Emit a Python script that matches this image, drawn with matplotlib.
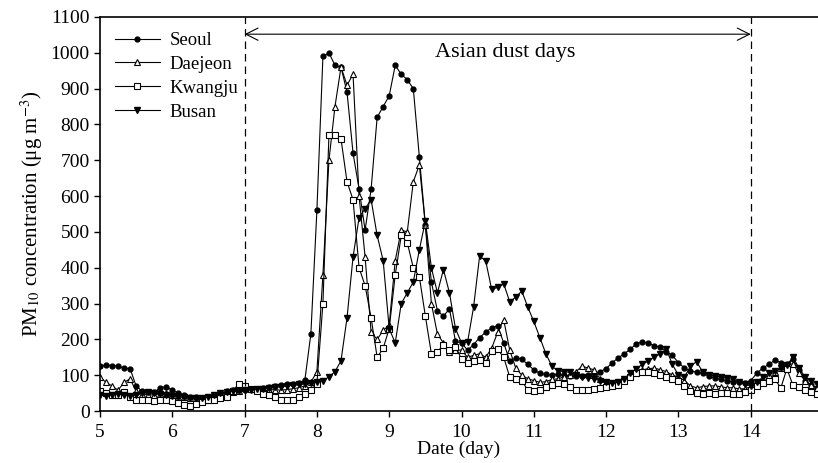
import matplotlib
matplotlib.use("Agg")
import matplotlib.pyplot as plt
import numpy as np

plt.rcParams['font.family'] = ['Liberation Serif', 'DejaVu Serif']
plt.rcParams['mathtext.fontset'] = 'stix'

# 2-hourly samples, day 5.0 .. 14.917
day = 5 + np.arange(120) / 12.0

seoul = [125, 128, 127, 125, 120, 118, 70, 55, 52, 52, 65, 68,
         58, 50, 45, 40, 38, 36, 38, 42, 48, 55, 60, 58,
         60, 62, 62, 65, 68, 70, 72, 75, 75, 78, 86, 215,
         560, 990, 1000, 965, 960, 890, 720, 620, 505, 620, 820, 850,
         880, 965, 940, 925, 900, 710, 520, 360, 280, 265, 285, 195,
         190, 170, 185, 205, 220, 232, 238, 190, 140, 148, 145, 130,
         115, 105, 102, 100, 102, 100, 98, 97, 98, 100, 105, 110,
         118, 135, 148, 160, 172, 188, 193, 190, 182, 178, 165, 155,
         135, 120, 112, 108, 105, 98, 92, 88, 85, 82, 80, 78,
         85, 105, 120, 130, 142, 135, 130, 145, 115, 85, 72, 65]

daejeon = [95, 80, 70, 58, 80, 90, 55, 48, 45, 45, 48, 50,
           45, 40, 38, 35, 32, 30, 32, 38, 45, 50, 52, 55,
           65, 62, 58, 55, 58, 60, 58, 60, 62, 65, 70, 80,
           110, 380, 700, 850, 960, 910, 940, 600, 430, 220, 200, 225,
           240, 420, 505, 500, 640, 687, 520, 300, 215, 190, 165, 170,
           170, 150, 155, 160, 150, 175, 220, 255, 170, 120, 100, 90,
           85, 80, 82, 88, 90, 95, 100, 110, 125, 120, 115, 90,
           80, 75, 78, 90, 100, 110, 115, 118, 120, 115, 110, 100,
           95, 85, 70, 65, 68, 70, 70, 68, 65, 65, 62, 62,
           68, 80, 90, 100, 110, 120, 128, 132, 105, 85, 72, 65]

kwangju = [55, 50, 45, 45, 52, 40, 30, 32, 30, 28, 30, 30,
           28, 22, 18, 15, 20, 25, 30, 32, 35, 40, 55, 75,
           70, 62, 55, 48, 45, 38, 32, 30, 32, 40, 48, 60,
           75, 300, 770, 770, 760, 640, 590, 400, 350, 260, 150, 175,
           230, 380, 490, 470, 400, 375, 265, 160, 165, 185, 170, 180,
           145, 135, 140, 142, 135, 168, 172, 150, 95, 88, 85, 58,
           55, 60, 68, 72, 78, 75, 68, 60, 58, 60, 62, 65,
           68, 70, 72, 85, 95, 105, 110, 108, 105, 100, 95, 90,
           85, 70, 55, 50, 48, 50, 48, 50, 50, 48, 48, 52,
           58, 70, 78, 85, 88, 65, 118, 72, 66, 60, 52, 48]

busan = [45, 42, 45, 48, 45, 42, 45, 50, 52, 50, 48, 45,
         42, 40, 38, 36, 35, 36, 40, 45, 50, 52, 55, 55,
         58, 60, 62, 62, 64, 66, 68, 70, 72, 74, 76, 78,
         80, 85, 95, 110, 140, 260, 430, 540, 565, 590, 490, 420,
         230, 190, 300, 330, 360, 450, 530, 400, 330, 395, 330, 230,
         190, 192, 290, 432, 420, 340, 345, 355, 305, 318, 335, 290,
         250, 205, 160, 125, 112, 110, 108, 100, 95, 92, 90, 85,
         80, 78, 82, 90, 105, 118, 130, 140, 150, 160, 172, 130,
         100, 95, 125, 138, 110, 100, 98, 95, 92, 88, 80, 75,
         70, 80, 95, 105, 112, 120, 128, 150, 120, 95, 85, 75]

fig = plt.figure(figsize=(8.18, 4.63), dpi=100)
ax = fig.add_axes([0.1222, 0.1123, 0.8778, 0.851])

ax.plot(day, seoul, '-', color='k', lw=0.8, marker='o', ms=3.5,
        mfc='k', mec='k', label='Seoul')
ax.plot(day, daejeon, '-', color='k', lw=0.8, marker='^', ms=4.5,
        mfc='white', mec='k', mew=0.8, label='Daejeon')
ax.plot(day, kwangju, '-', color='k', lw=0.8, marker='s', ms=4,
        mfc='white', mec='k', mew=0.8, label='Kwangju')
ax.plot(day, busan, '-', color='k', lw=0.8, marker='v', ms=4.5,
        mfc='k', mec='k', label='Busan')

# Asian dust period
ax.axvline(7, color='k', ls=(0, (6, 4)), lw=0.9)
ax.axvline(14, color='k', ls=(0, (6, 4)), lw=0.9)
ax.annotate('', xy=(7, 1052), xytext=(14, 1052),
            arrowprops=dict(arrowstyle='<->', color='k', lw=0.8,
                            mutation_scale=22, shrinkA=0, shrinkB=0))
ax.text(10.6, 1000, 'Asian dust days', ha='center', va='center', fontsize=16)

ax.set_xlim(5, 14.93)
ax.set_ylim(0, 1100)
ax.set_xticks(range(5, 15))
ax.set_yticks(range(0, 1101, 100))
ax.tick_params(direction='out', length=4, width=1, labelsize=14)
ax.tick_params(axis='x', pad=5)
ax.spines['right'].set_visible(False)
for s in ['left', 'bottom', 'top']:
    ax.spines[s].set_linewidth(1.2)

ax.set_xlabel('Date (day)', fontsize=14, labelpad=0)
ax.set_ylabel('PM$_{10}$ concentration (μg m$^{-3}$)', fontsize=15, labelpad=4)

leg = ax.legend(loc='upper left', bbox_to_anchor=(0.0, 1.0), frameon=False,
                fontsize=13.5, handlelength=2.4, handletextpad=0.5,
                labelspacing=0.36, borderaxespad=0.4)

fig.savefig('out.png', dpi=100)
